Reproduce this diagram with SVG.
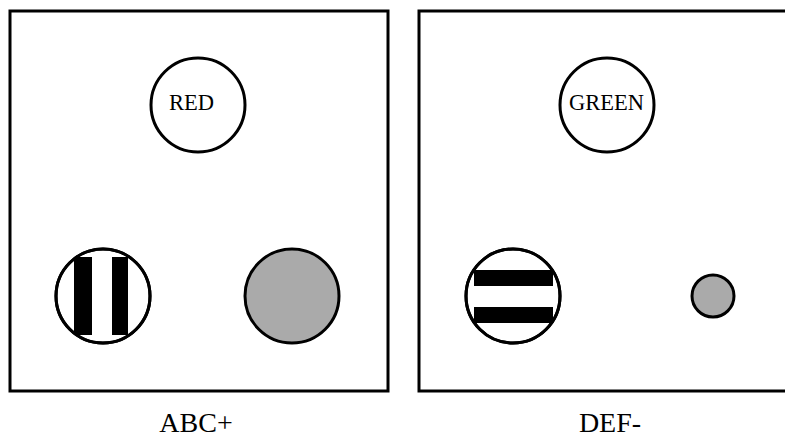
<svg xmlns="http://www.w3.org/2000/svg" width="785" height="437" viewBox="0 0 785 437">
<style>
.frame{fill:none;stroke:#000;stroke-width:3}
.ring{fill:#fff;stroke:#000;stroke-width:3}
.gray{fill:#aaaaaa;stroke:#000;stroke-width:3}
.bar{fill:#000}
.t{font-family:"Liberation Serif","Times New Roman",serif;fill:#000}
.inner{font-size:22.5px}
.lbl{font-size:28px;text-anchor:middle}
</style>
<rect width="785" height="437" fill="#fff"/>
<g id="panel-left">
<rect class="frame" x="10" y="11" width="378" height="380"/>
<g id="red"><circle class="ring" cx="198" cy="105" r="47"/><text class="t inner" x="191.5" y="109.5" text-anchor="middle">RED</text></g>
<g id="vstripes"><circle class="ring" cx="103" cy="296" r="47"/>
<rect class="bar" x="74" y="257" width="18" height="78"/><rect class="bar" x="112" y="257" width="16" height="78"/>
<circle cx="103" cy="296" r="47" fill="none" stroke="#000" stroke-width="3"/></g>
<g id="gray-big"><circle class="gray" cx="292" cy="296" r="47"/></g>
<text class="t lbl" x="196" y="432">ABC+</text>
</g>
<g id="panel-right">
<rect class="frame" x="419" y="11" width="380" height="380"/>
<g id="green"><circle class="ring" cx="607" cy="105" r="47"/><text class="t inner" x="606.5" y="110" text-anchor="middle">GREEN</text></g>
<g id="hstripes"><circle class="ring" cx="513" cy="296" r="47"/>
<rect class="bar" x="474" y="270" width="79" height="16"/><rect class="bar" x="474" y="307" width="79" height="16"/>
<circle cx="513" cy="296" r="47" fill="none" stroke="#000" stroke-width="3"/></g>
<g id="gray-small"><circle class="gray" cx="713" cy="296" r="21"/></g>
<text class="t lbl" x="610" y="432">DEF-</text>
</g>
<g id="connectors"/>
</svg>
